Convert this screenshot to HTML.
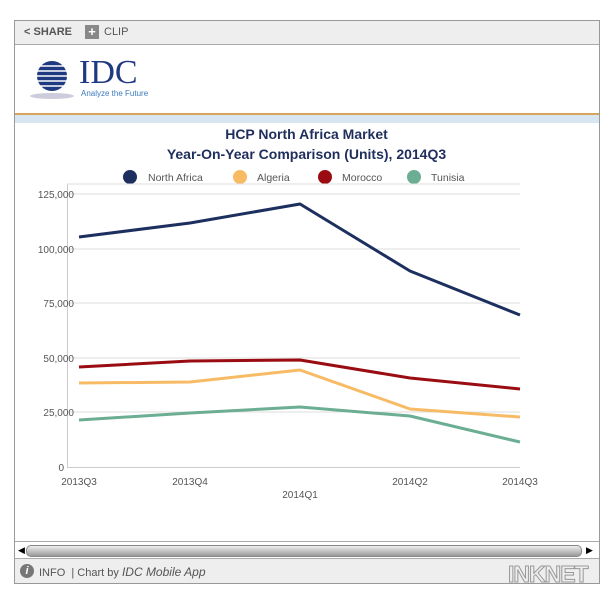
<!DOCTYPE html>
<html><head><style>
body{margin:0;width:613px;height:601px;background:#fff;font-family:"Liberation Sans",sans-serif;position:relative;overflow:hidden}
.box{position:absolute;left:14px;top:20px;width:584px;height:562px;border:1px solid #999;}
</style></head><body>
<div class="box"></div>
<div style="position:absolute;left:15px;top:21px;width:584px;height:23px;background:#eee;border-bottom:1px solid #aaa"></div>
<div style="position:absolute;left:24px;top:26px;font-size:11px;color:#555;font-weight:bold">&lt; SHARE</div>
<div style="position:absolute;left:85px;top:25px;width:14px;height:14px;background:#888;color:#fff;font-size:13px;line-height:14px;text-align:center;font-weight:bold">+</div>
<div style="position:absolute;left:104px;top:26px;font-size:11px;color:#555">CLIP</div>
<svg style="position:absolute;left:28px;top:58px" width="50" height="42"><ellipse cx="24" cy="38" rx="22" ry="3" fill="#ccd"/><circle cx="24" cy="18" r="15" fill="#1f3a80"/><g stroke="#fff" stroke-width="1.5"><line x1="0" y1="8" x2="50" y2="8"/><line x1="0" y1="13" x2="50" y2="13"/><line x1="0" y1="18" x2="50" y2="18"/><line x1="0" y1="23" x2="50" y2="23"/><line x1="0" y1="28" x2="50" y2="28"/></g></svg>
<div style="position:absolute;left:79px;top:55px;font-family:'Liberation Serif',serif;font-size:34px;color:#1f3a80;line-height:36px">IDC</div>
<div style="position:absolute;left:81px;top:89px;font-size:8px;color:#3a7ac0">Analyze the Future</div>
<div style="position:absolute;left:15px;top:113px;width:584px;height:2px;background:#d4a65a"></div>
<div style="position:absolute;left:15px;top:115px;width:584px;height:8px;background:#d8e6f2"></div>
<div style="position:absolute;left:0;width:613px;top:124px;text-align:center;font-size:14px;font-weight:bold;color:#1f2e5c;line-height:20px">HCP North Africa Market<br>Year-On-Year Comparison (Units), 2014Q3</div>
<svg style="position:absolute;left:0;top:0" width="613" height="601">
<g font-size="10.5" fill="#555">
<circle cx="130" cy="177" r="7" fill="#1c2f5f"/><text x="148" y="181">North Africa</text>
<circle cx="240" cy="177" r="7" fill="#f7bb66"/><text x="257" y="181">Algeria</text>
<circle cx="325" cy="177" r="7" fill="#9a0c12"/><text x="342" y="181">Morocco</text>
<circle cx="414" cy="177" r="7" fill="#6bae94"/><text x="431" y="181">Tunisia</text>
</g>
<g stroke="#ddd" stroke-width="1"><line x1="67" y1="184" x2="520" y2="184"/><line x1="67" y1="194" x2="520" y2="194"/><line x1="67" y1="249" x2="520" y2="249"/><line x1="67" y1="303" x2="520" y2="303"/><line x1="67" y1="358" x2="520" y2="358"/><line x1="67" y1="412" x2="520" y2="412"/><line x1="67" y1="467.5" x2="520" y2="467.5" stroke="#ccc"/><line x1="67.5" y1="184" x2="67.5" y2="467" stroke="#ccc"/></g>
<g font-size="10" fill="#555" text-anchor="end"><text x="74" y="198">125,000</text><text x="74" y="253">100,000</text><text x="74" y="307">75,000</text><text x="74" y="362">50,000</text><text x="74" y="416">25,000</text><text x="64" y="471">0</text></g>
<g font-size="10" fill="#555" text-anchor="middle"><text x="79" y="485">2013Q3</text><text x="190" y="485">2013Q4</text><text x="300" y="498">2014Q1</text><text x="410" y="485">2014Q2</text><text x="520" y="485">2014Q3</text></g>
<g fill="none" stroke-width="3" stroke-linejoin="round">
<polyline stroke="#1c2f5f" points="79,237 190,223 300,204 410,271 520,315"/>
<polyline stroke="#9a0c12" points="79,367 190,361 300,360 410,378 520,389"/>
<polyline stroke="#f7bb66" points="79,383 190,382 300,370 410,409 520,417"/>
<polyline stroke="#6bae94" points="79,420 190,413 300,407 410,416 520,442"/>
</g>
</svg>
<div style="position:absolute;left:15px;top:541px;width:584px;height:1px;background:#aaa"></div>
<div style="position:absolute;left:26px;top:545px;width:554px;height:10px;border-radius:5px;background:linear-gradient(#eee,#999);border:1px solid #888"></div>
<div style="position:absolute;left:18px;top:545px;font-size:9px">◀</div>
<div style="position:absolute;left:586px;top:545px;font-size:9px">▶</div>
<div style="position:absolute;left:15px;top:558px;width:584px;height:24px;background:#eee;border-top:1px solid #aaa"></div>
<div style="position:absolute;left:20px;top:564px;width:14px;height:14px;border-radius:7px;background:#777;color:#fff;font-size:11px;text-align:center;line-height:14px;font-style:italic;font-weight:bold">i</div>
<div style="position:absolute;left:39px;top:565px;font-size:11px;color:#555">INFO &nbsp;| Chart by <i style="font-size:12px">IDC Mobile App</i></div>
<div style="position:absolute;left:508px;top:561px;font-size:23px;font-weight:bold;color:#eee;-webkit-text-stroke:1px #999;letter-spacing:-1px">INKNET</div>
</body></html>
